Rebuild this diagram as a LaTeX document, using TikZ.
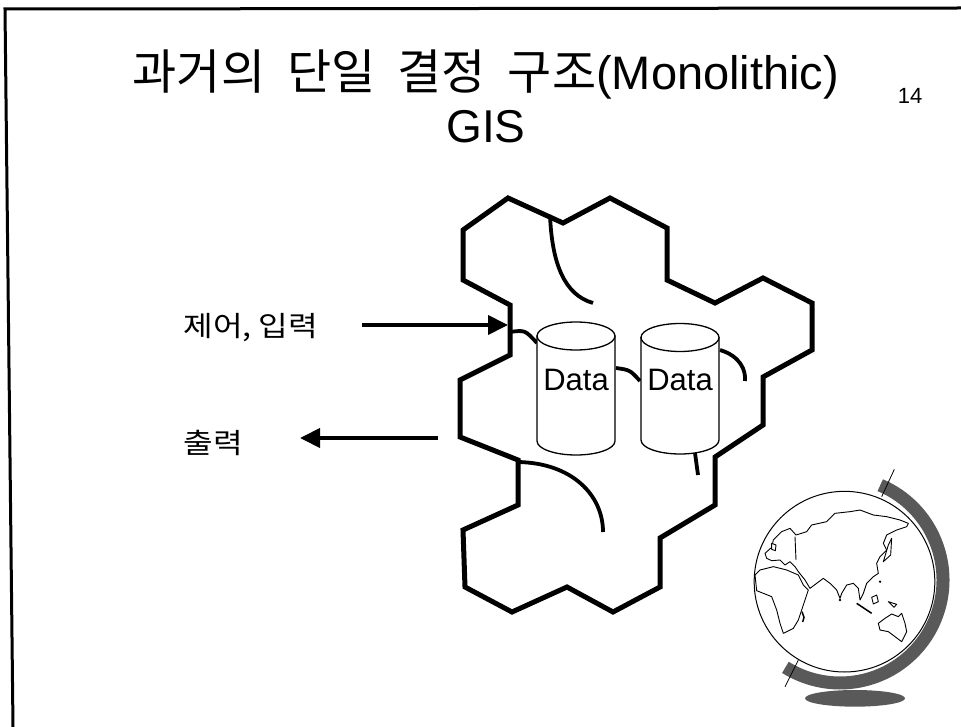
\documentclass[tikz,border=0pt]{standalone}
\usepackage{fontspec}
\setmainfont{Liberation Sans}
\newfontfamily\kofont{Noto Sans CJK KR}
\usepackage{tikz}
\usetikzlibrary{arrows.meta}

\tikzset{
  hexwall/.style={line width=5pt, line join=miter},
  flowline/.style={line width=3.8pt},
  cylside/.style={line width=1.3pt, fill=white},
  datalbl/.style={font=\fontsize{31}{36}\selectfont, anchor=base},
  iolbl/.style={font=\kofont\fontsize{28}{32}\selectfont, anchor=base west},
  ioarrow/.style={line width=4pt, -{Triangle[length=20pt,width=19pt]}},
  landline/.style={line width=0.9pt, fill=white, line join=round},
}

\begin{document}
\begin{tikzpicture}[x=1pt, y=-1pt]
\newcommand{\CylRx}{39}
\newcommand{\CylRy}{14}
\newcommand{\WordGap}{\hspace{22pt}}
\useasboundingbox (0,0) rectangle (961,727);

% frame of the slide
\draw[line width=3pt] (961,8) -- (5,9) -- (13,727);

% title and page number
\node[anchor=base] (title) at (486,90) {{\kofont\fontsize{48}{54}\selectfont 과거의\WordGap 단일\WordGap 결정\WordGap 구조}{\fontsize{47}{54}\selectfont(Monolithic)}};
\node[anchor=base] (gis) at (486,143) {\fontsize{46}{50}\selectfont GIS};
\node[anchor=base] (pagenum) at (910,104) {\fontsize{22}{26}\selectfont 14};

% one big block made of hexagons
\draw[hexwall] (463,230) -- (508,198) -- (563,223) -- (610,198) -- (667,228) -- (667,280)
  -- (715,303) -- (763,278) -- (812,303) -- (812,350) -- (763,377) -- (763,425)
  -- (715,457) -- (715,505) -- (660,538) -- (660,587) -- (613,612) -- (567,587)
  -- (512,612) -- (465,587) -- (463,530) -- (518,505) -- (518,460) -- (460,437)
  -- (460,380) -- (510,355) -- (510,305) -- (463,280) -- cycle;

% tangled links inside
\draw[flowline] (550,215) .. controls (552,265) and (565,295) .. (593,303);
\draw[flowline] (510,332) .. controls (525,330) .. (537,343);
\draw[flowline] (616,368) .. controls (630,370) .. (640,381);
\draw[flowline] (720,350) .. controls (740,356) and (746,370) .. (745,381);
\draw[flowline] (695,453) -- (698,475);
\draw[flowline] (518,462) .. controls (572,463) and (603,495) .. (603,532);

% data stores
\foreach \cx/\yt/\yb/\nm in {576/336/441/data1, 680/337.5/440/data2}{
  \draw[cylside] (\cx-\CylRx,\yt) -- (\cx-\CylRx,\yb)
    arc[start angle=180, end angle=0, x radius=\CylRx, y radius=\CylRy] -- (\cx+\CylRx,\yt) -- cycle;
  \draw[cylside] (\cx,\yt) ellipse[x radius=\CylRx, y radius=\CylRy];
  \node[datalbl] (\nm) at (\cx,390) {Data};
}

% input and output
\node[iolbl] (ctrlin) at (180,336) {\scalebox{1.15}[1]{제어, 입력}};
\node[iolbl] (outlbl) at (180,453) {\scalebox{1.15}[1]{출력}};
\coordinate (intail) at (362,325);
\coordinate (inhit) at (508,325);
\coordinate (outtail) at (438,438);
\coordinate (outtip) at (300,438);
\draw[ioarrow] (intail) -- (inhit);
\draw[ioarrow] (outtail) -- (outtip);

% globe on its stand
\begin{scope}[shift={(740,460)}, scale=1/3]
  \fill[black!65] (345,715) ellipse[x radius=150, y radius=25];% shadow of the foot
  \draw[line width=13pt, black!65] (300,360) ++(-67:309) arc[start angle=-67, end angle=122, radius=309];% meridian ring
  \draw[line width=0.8pt] (463,28) -- (425,110);
  \draw[line width=0.8pt] (175,600) -- (135,680);
  \draw[line width=1pt, fill=white] (313.5,365) circle[radius=271];
  % Eurasia
  \draw[landline] (75,280) -- (95,262) -- (100,240) -- (125,215) -- (150,205) -- (168,225)
    -- (200,215) -- (215,195) -- (260,185) -- (285,160) -- (330,155) -- (360,150)
    -- (400,165) -- (440,170) -- (480,180) -- (505,190) -- (500,200) -- (470,210)
    -- (440,225) -- (430,250) -- (440,270) -- (420,290) -- (410,310) -- (415,340)
    -- (400,350) -- (380,370) -- (370,400) -- (360,420) -- (355,385) -- (340,370)
    -- (320,375) -- (305,400) -- (300,415) -- (290,390) -- (270,370) -- (250,355)
    -- (230,370) -- (210,385) -- (195,360) -- (175,335) -- (165,320) -- (150,305)
    -- (135,315) -- (120,300) -- (95,302) -- (80,295) -- cycle;
  \draw[line width=0.9pt] (165,230) -- (168,300);
  % Africa
  \draw[landline] (45,345) -- (60,330) -- (100,320) -- (140,330) -- (175,345) -- (190,375)
    -- (205,390) -- (195,420) -- (185,450) -- (175,480) -- (160,505) -- (130,520)
    -- (120,490) -- (110,450) -- (95,410) -- (70,400) -- (50,392) -- cycle;
  % Australia
  \draw[landline] (415,490) -- (435,475) -- (455,462) -- (475,470) -- (485,460) -- (495,490)
    -- (500,515) -- (485,545) -- (465,530) -- (445,515) -- (420,510) -- cycle;
  % islands
  \draw[landline] (445,255) -- (455,235) -- (452,285) -- (430,305) -- cycle;
  \draw[line width=1.5pt] (350,430) -- (395,460);
  \draw[landline] (395,412) -- (410,405) -- (415,425) -- (400,432) -- cycle;
  \draw[landline] (445,425) -- (470,433) -- (462,442) -- cycle;
  \draw[line width=1.5pt] (186,455) -- (192,472) -- (188,486);
  \draw[landline] (95,250) -- (108,255) -- (106,272) -- (95,268) -- cycle;
  \fill (300,420) circle[radius=4];
  \fill (420,365) circle[radius=4];
\end{scope}
\end{tikzpicture}
\end{document}
